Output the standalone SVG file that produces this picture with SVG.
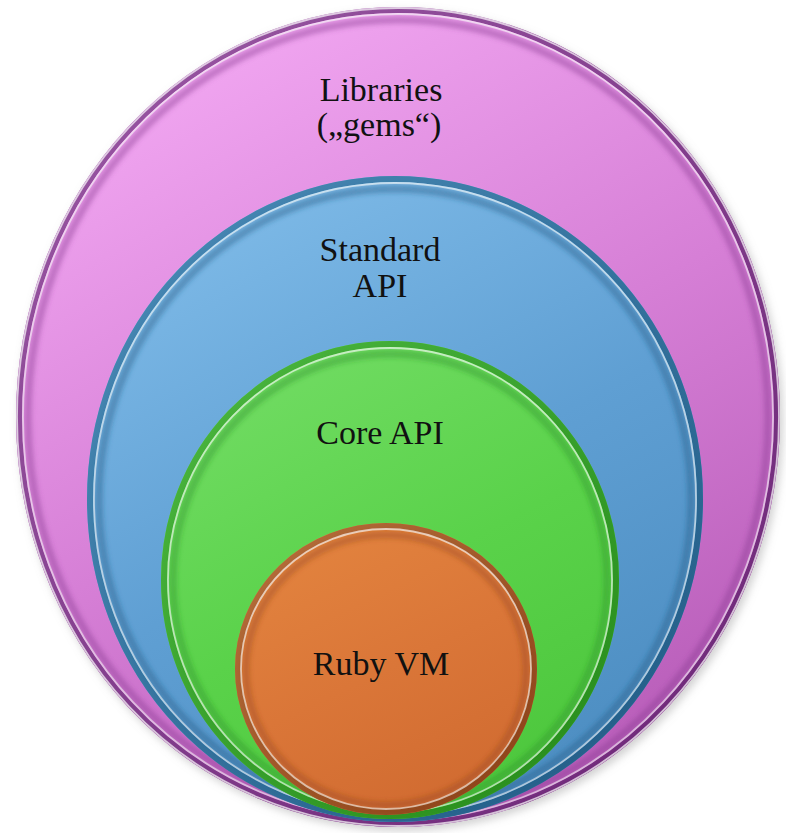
<svg xmlns="http://www.w3.org/2000/svg" width="786" height="833" viewBox="0 0 786 833">
  <defs>
    <style>
      .label { font-family: "Liberation Serif", "Times New Roman", serif; font-size: 34px; fill: #111; text-anchor: middle; }
      .hl { fill: none; stroke: #ffffff; stroke-opacity: 0.7; stroke-width: 1.8; }
      .inner { fill: none; stroke-width: 7; filter: url(#soft); }
    </style>
    <filter id="soft" x="-10%" y="-10%" width="120%" height="120%">
      <feGaussianBlur stdDeviation="2.5"/>
    </filter>
    <filter id="shadow" x="-10%" y="-10%" width="120%" height="120%">
      <feGaussianBlur stdDeviation="4"/>
    </filter>

    <!-- fills -->
    <linearGradient id="fPurple" x1="0.25" y1="0" x2="0.75" y2="1">
      <stop offset="0" stop-color="#f3a9f3"/>
      <stop offset="0.5" stop-color="#d67fd6"/>
      <stop offset="1" stop-color="#b55ab6"/>
    </linearGradient>
    <linearGradient id="fBlue" x1="0.25" y1="0" x2="0.75" y2="1">
      <stop offset="0" stop-color="#7fbbe8"/>
      <stop offset="0.5" stop-color="#5f9fd3"/>
      <stop offset="1" stop-color="#4b8cc0"/>
    </linearGradient>
    <linearGradient id="fGreen" x1="0.25" y1="0" x2="0.75" y2="1">
      <stop offset="0" stop-color="#72dc64"/>
      <stop offset="0.5" stop-color="#5ad24a"/>
      <stop offset="1" stop-color="#4cc63c"/>
    </linearGradient>
    <linearGradient id="fOrange" x1="0.25" y1="0" x2="0.75" y2="1">
      <stop offset="0" stop-color="#e3843f"/>
      <stop offset="0.5" stop-color="#da7638"/>
      <stop offset="1" stop-color="#d06a30"/>
    </linearGradient>

    <!-- rims -->
    <linearGradient id="rPurple" x1="0" y1="0" x2="1" y2="1">
      <stop offset="0" stop-color="#9c5aa6"/>
      <stop offset="1" stop-color="#6a2474"/>
    </linearGradient>
    <linearGradient id="rBlue" x1="0" y1="0" x2="1" y2="1">
      <stop offset="0" stop-color="#4a8cb8"/>
      <stop offset="1" stop-color="#205a84"/>
    </linearGradient>
    <linearGradient id="rGreen" x1="0" y1="0" x2="1" y2="1">
      <stop offset="0" stop-color="#4cb840"/>
      <stop offset="1" stop-color="#268a1a"/>
    </linearGradient>
    <linearGradient id="rOrange" x1="0" y1="0" x2="1" y2="1">
      <stop offset="0" stop-color="#b8703c"/>
      <stop offset="1" stop-color="#8a4016"/>
    </linearGradient>
  </defs>

  <rect width="786" height="833" fill="#ffffff"/>

  <!-- soft cast shadow under the outer disc -->
  <ellipse cx="401" cy="421" rx="382" ry="410" fill="#9a9a9a" fill-opacity="0.45" filter="url(#shadow)"/>

  <g id="libraries">
    <ellipse cx="398" cy="417" rx="382" ry="410" fill="url(#fPurple)"/>
    <ellipse cx="398" cy="417" rx="379" ry="407" fill="none" stroke="url(#rPurple)" stroke-width="6"/>
    <ellipse class="hl" cx="398" cy="417" rx="381" ry="409"/>
    <ellipse class="hl" cx="398" cy="417" rx="375" ry="403"/>
    <ellipse class="inner" cx="398" cy="418" rx="370" ry="398" stroke="#8a3a92" stroke-opacity="0.45"/>
    <text class="label" x="381" y="101">Libraries</text>
    <text class="label" x="379" y="136">(„gems“)</text>
  </g>

  <g id="standard-api">
    <ellipse cx="395" cy="499" rx="308" ry="323" fill="url(#fBlue)"/>
    <ellipse cx="395" cy="499" rx="305" ry="320" fill="none" stroke="url(#rBlue)" stroke-width="6"/>
    <ellipse class="hl" cx="395" cy="499" rx="301" ry="316"/>
    <ellipse class="inner" cx="395" cy="500" rx="296" ry="311" stroke="#1f5a86" stroke-opacity="0.45"/>
    <text class="label" x="380" y="261">Standard</text>
    <text class="label" x="380" y="297">API</text>
  </g>

  <g id="core-api">
    <ellipse cx="390" cy="580" rx="229" ry="239" fill="url(#fGreen)"/>
    <ellipse cx="390" cy="580" rx="226" ry="236" fill="none" stroke="url(#rGreen)" stroke-width="6"/>
    <ellipse class="hl" cx="390" cy="580" rx="222" ry="232"/>
    <ellipse class="inner" cx="390" cy="581" rx="217" ry="227" stroke="#2a8a20" stroke-opacity="0.4"/>
    <text class="label" x="380" y="444">Core API</text>
  </g>

  <g id="ruby-vm">
    <ellipse cx="386" cy="669" rx="151" ry="146" fill="url(#fOrange)"/>
    <ellipse cx="386" cy="669" rx="148" ry="143" fill="none" stroke="url(#rOrange)" stroke-width="6"/>
    <ellipse class="hl" cx="386" cy="669" rx="145" ry="140"/>
    <ellipse class="inner" cx="386" cy="670" rx="140" ry="135" stroke="#8a4018" stroke-opacity="0.35"/>
    <text class="label" x="381" y="675">Ruby VM</text>
  </g>
</svg>
